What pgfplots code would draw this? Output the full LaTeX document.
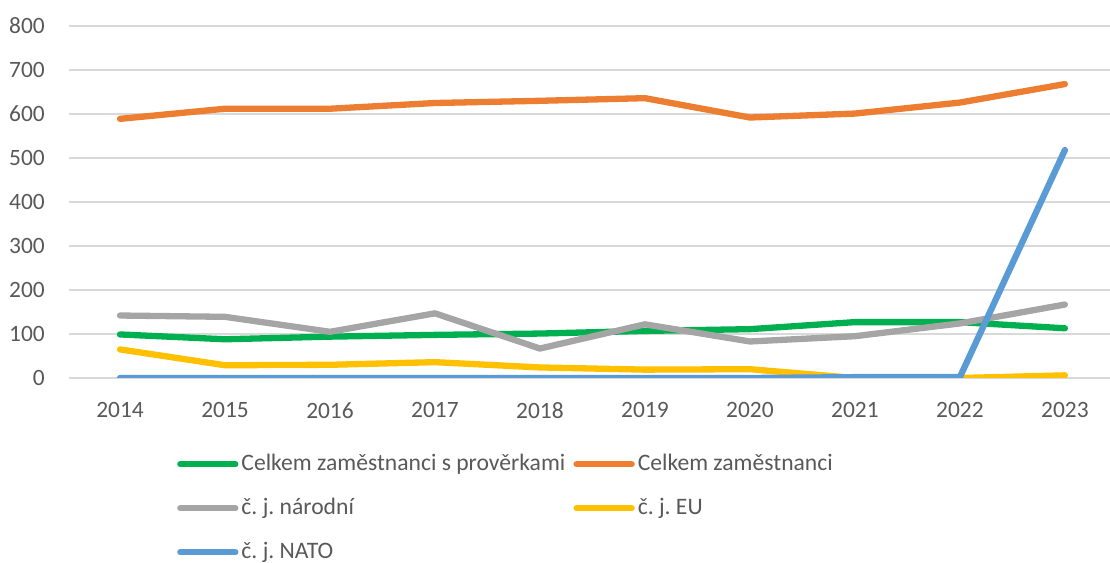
\documentclass[border=0pt]{standalone}
\usepackage{fontspec}
\setmainfont{Carlito}
\usepackage{pgfplots}
\pgfplotsset{compat=1.18}
\definecolor{cgreen}{HTML}{00B050}
\definecolor{corange}{HTML}{ED7D31}
\definecolor{cgray}{HTML}{A5A5A5}
\definecolor{cyellow}{HTML}{FFC000}
\definecolor{cblue}{HTML}{5B9BD5}
\definecolor{gridgray}{HTML}{D9D9D9}
\definecolor{labelgray}{HTML}{595959}
\frenchspacing
\begin{document}
\begin{tikzpicture}
\fontsize{23.5}{28}\selectfont
\path[use as bounding box] (0,0) rectangle (1110bp,563bp);
\begin{axis}[
  at={(69bp,185bp)}, anchor=south west,
  width=1041bp, height=352bp, scale only axis,
  xmin=-0.486, xmax=9.43, ymin=0, ymax=800,
  axis line style={draw=none},
  major tick length=0pt,
  ytick={0,100,...,800},
  xtick={0,...,9},
  xticklabels={2014,2015,2016,2017,2018,2019,2020,2021,2022,2023},
  ymajorgrids,
  major grid style={color=gridgray, line width=1.3bp},
  /pgf/number format/assume math mode=true,
  tick label style={color=labelgray, font=\fontsize{23.5}{28}\selectfont},
  yticklabel style={anchor=east, inner sep=0pt, xshift=-24bp},
  xticklabel style={anchor=north, inner sep=0pt, yshift=-24bp},
  every axis plot/.append style={line width=6.3bp, line cap=round, line join=round, mark=none},
  legend columns=2,
  legend cell align=left,
  legend image code/.code={\draw[#1] (0bp,0bp) -- (55bp,0bp);},
  legend style={draw=none, fill=none, at={(axis description cs:0,0)}, anchor=north west,
    xshift=105bp, yshift=-73bp,
    font=\fontsize{23.7}{28}\selectfont\frenchspacing, text=labelgray,
    nodes={inner xsep=3bp, inner ysep=0pt, text height=17bp, text depth=5bp},
    row sep=22bp, column sep=0pt},
]
\addplot[cgreen] coordinates {(0,99) (1,88) (2,94) (3,98) (4,101) (5,107) (6,111) (7,127) (8,127) (9,113)};
\addlegendentry{\makebox[329bp][l]{Celkem zaměstnanci s prověrkami}}
\addplot[corange] coordinates {(0,589) (1,612) (2,612) (3,625) (4,630) (5,636) (6,592) (7,601) (8,626) (9,668)};
\addlegendentry{Celkem zaměstnanci}
\addplot[cgray] coordinates {(0,142) (1,139) (2,105) (3,147) (4,67) (5,122) (6,83) (7,95) (8,124) (9,167)};
\addlegendentry{\makebox[329bp][l]{č. j. národní}}
\addplot[cyellow] coordinates {(0,65) (1,29) (2,30) (3,36) (4,24) (5,19) (6,20) (7,0) (8,0) (9,6)};
\addlegendentry{č. j. EU}
\addplot[cblue] coordinates {(0,0) (1,0) (2,0) (3,0) (4,0) (5,0) (6,0) (7,2) (8,2) (9,518)};
\addlegendentry{\makebox[329bp][l]{č. j. NATO}}
\end{axis}
\end{tikzpicture}
\end{document}
